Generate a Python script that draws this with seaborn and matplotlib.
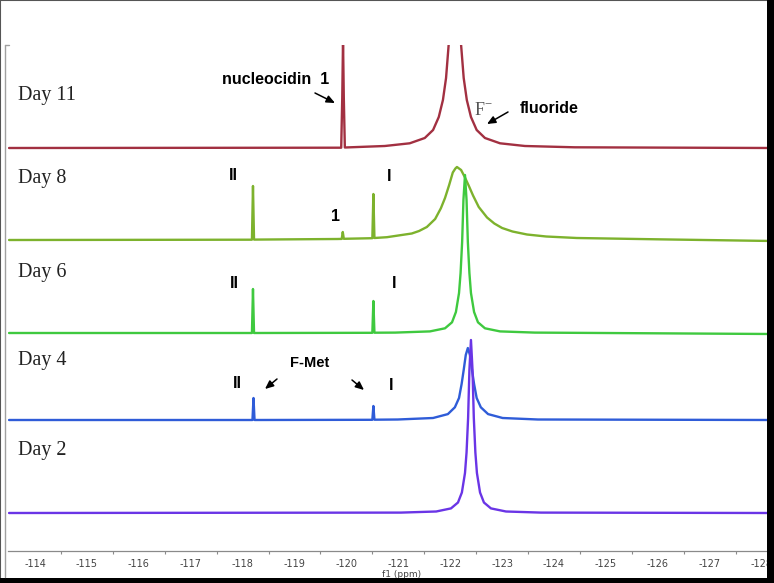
import numpy as np
import pandas as pd
import matplotlib
matplotlib.use("Agg")
import matplotlib.pyplot as plt
from matplotlib.patches import Rectangle
from matplotlib.lines import Line2D
import seaborn as sns

# ---------------- data (ppm, intensity above each trace's baseline) ----------------
days = ["Day 11", "Day 8", "Day 6", "Day 4", "Day 2"]

day11_ppm = [-113.50, -119.90, -119.92, -119.935, -119.95, -119.97, -120.74, -121.22, -121.51,
             -121.67, -121.78, -121.86, -121.92, -121.97, -122.03, -122.09, -122.15, -122.21,
             -122.26, -122.32, -122.40, -122.51, -122.67, -122.96, -123.44, -124.40, -128.20]
day11_int = [0.0, 0.3, 50, 108, 50, 0.5, 2, 4.7, 10,
             18, 31, 48, 70, 103, 144, 166, 144, 103,
             70, 48, 31, 18, 10, 4.7, 2, 0.7, 0.0]

day8_ppm = [-113.50, -118.18, -118.20, -118.22, -119.82, -119.91, -119.93, -119.95, -120.50,
            -120.52, -120.54, -120.78, -121.26, -121.40, -121.55, -121.71, -121.82, -121.90,
            -121.98, -122.05, -122.10, -122.13, -122.17, -122.21, -122.28, -122.36, -122.44,
            -122.55, -122.71, -122.85, -123.00, -123.20, -123.48, -123.85, -124.44, -125.98,
            -128.20]
day8_int = [0.0, 0.3, 54, 0.4, 1.0, 1.1, 8, 1.2, 1.8,
            46, 2.0, 2.8, 6.5, 9.0, 13, 21, 31.7, 42,
            55, 67.5, 71.5, 73, 71.5, 70, 63, 54, 44.5,
            33, 22.5, 16.5, 12, 8.5, 5.5, 3.5, 2.0, 0.7,
            -1.0]

day6_ppm = [-113.50, -118.18, -118.20, -118.22, -120.50, -120.52, -120.54, -120.94, -121.61,
            -121.90, -122.035, -122.11, -122.17, -122.20, -122.23, -122.255, -122.285, -122.315,
            -122.34, -122.37, -122.40, -122.46, -122.535, -122.67, -122.96, -123.63, -128.20]
day6_int = [0.0, 0.0, 44, 0.0, 0.2, 32, 0.3, 0.4, 1.6,
            4.7, 10.7, 21, 40, 60, 91, 133, 158, 133,
            91, 60, 40, 21, 10.7, 4.7, 1.6, 0.4, -1.0]

day4_ppm = [-113.50, -118.19, -118.21, -118.23, -120.50, -120.52, -120.54, -120.99, -121.67,
            -121.955, -122.09, -122.17, -122.22, -122.26, -122.30, -122.34, -122.38, -122.42,
            -122.46, -122.51, -122.59, -122.73, -123.01, -123.69, -128.20]
day4_int = [0.0, 0.0, 22, 0.0, 0.2, 14, 0.3, 0.5, 2.0,
            5.9, 12.7, 22, 36, 50, 65, 72, 65, 50,
            36, 22, 12.7, 5.9, 2.0, 0.5, 0.0]

day2_ppm = [-113.50, -121.05, -121.73, -122.015, -122.15, -122.225, -122.285, -122.315, -122.345,
            -122.37, -122.40, -122.43, -122.455, -122.485, -122.515, -122.575, -122.65, -122.785,
            -123.075, -123.75, -128.20]
day2_int = [0.0, 0.4, 1.5, 4.6, 10.5, 20.5, 40, 60.5, 95,
            143, 173, 143, 95, 60.5, 40, 20.5, 10.5, 4.6,
            1.5, 0.4, 0.0]

tick_values = list(range(-114, -129, -1))
tick_labels = [str(v) for v in tick_values]
minor_tick_values = [v - 0.5 for v in tick_values[:-1]]

# ---------------- layout / style ----------------
offsets = [403, 311, 218, 131, 38]
colors = ["#a23041", "#7db22d", "#3fc93f", "#2f5cd8", "#6a35e6"]

frames = []
for name, xs, ys, off in zip(days,
                             [day11_ppm, day8_ppm, day6_ppm, day4_ppm, day2_ppm],
                             [day11_int, day8_int, day6_int, day4_int, day2_int],
                             offsets):
    frames.append(pd.DataFrame({"ppm": xs, "signal": np.asarray(ys) + off, "day": name}))
df = pd.concat(frames, ignore_index=True)

sns.set_style("white")
plt.rcParams["font.family"] = ["DejaVu Sans"]

W, H = 774, 583
fig = plt.figure(figsize=(W / 100, H / 100), dpi=100)
ax = fig.add_axes([8 / W, (H - 551) / H, (767 - 8) / W, 506 / H])

def px2x(px):
    return -114 - (px - 35) / 51.9

sns.lineplot(data=df, x="ppm", y="signal", hue="day", hue_order=days,
             palette=dict(zip(days, colors)), estimator=None, sort=False,
             linewidth=1.7, legend=False, ax=ax)

for s in ["top", "left", "right"]:
    ax.spines[s].set_visible(False)
ax.spines["bottom"].set_color("#8a8a8a")
ax.spines["bottom"].set_linewidth(0.9)
ax.set_yticks([])
ax.set_xticks(tick_values)
ax.set_xticklabels(tick_labels)
ax.set_xticks(minor_tick_values, minor=True)
ax.set_xlim(px2x(8), px2x(767))
ax.set_ylim(0, 506)
ax.tick_params(axis="x", which="major", direction="out", length=3, width=0.8,
               color="#8a8a8a", labelsize=7, labelcolor="#444444", pad=2.5)
ax.tick_params(axis="x", which="minor", direction="out", length=2, width=0.8,
               color="#8a8a8a", bottom=True)
ax.set_xlabel("f1 (ppm)", fontsize=6.5, color="#444444", labelpad=0)
ax.set_ylabel("")
ax.xaxis.set_label_coords((402 - 8) / (767 - 8), -19 / 506)

# Day labels
day_label_y = [456, 373, 279, 190, 100]
for name, yy in zip(days, day_label_y):
    ax.text(px2x(18), yy, name, fontsize=14.5, family="Liberation Serif",
            color="#222222", ha="left", va="center")

bold = dict(family="Liberation Sans", fontweight="bold", color="black",
            ha="center", va="center")
arrow = dict(arrowstyle="-|>,head_length=0.5,head_width=0.22", color="black", lw=1.1,
             shrinkA=0, shrinkB=0)

# Day 11 annotations
ax.text(px2x(276), 472, "nucleocidin  1", fontsize=11.5, **bold)
ax.annotate("", xy=(px2x(335), 448), xytext=(px2x(315), 458), arrowprops=arrow)
ax.text(px2x(483), 441, r"$\mathregular{F^{-}}$", fontsize=13, family="Liberation Serif",
        color="#555555", ha="center", va="center")
ax.text(px2x(549), 443, "fluoride", fontsize=11.5, **bold)
ax.annotate("", xy=(px2x(487), 427), xytext=(px2x(508), 439), arrowprops=arrow)

# Day 8
ax.text(px2x(233), 376, "II", fontsize=11.5, **bold)
ax.text(px2x(389), 375, "I", fontsize=11.5, **bold)
ax.text(px2x(336), 335, "1", fontsize=11.5, **bold)
# Day 6
ax.text(px2x(234), 268, "II", fontsize=11.5, **bold)
ax.text(px2x(394), 268, "I", fontsize=11.5, **bold)
# Day 4
ax.text(px2x(310), 188, "F-Met", fontsize=10.5, **bold)
ax.text(px2x(237), 167, "II", fontsize=11.5, **bold)
ax.text(px2x(391), 166, "I", fontsize=11.5, **bold)
ax.annotate("", xy=(px2x(265), 162), xytext=(px2x(277), 172), arrowprops=arrow)
ax.annotate("", xy=(px2x(364), 161), xytext=(px2x(352), 171), arrowprops=arrow)

# Frame decorations (figure coordinates)
def fx(px):
    return px / W

def fy(py):
    return 1 - py / H

fig.add_artist(Rectangle((0, 0), 1, 1, transform=fig.transFigure, fill=False,
                         edgecolor="#555555", lw=1.5))
fig.add_artist(Rectangle((fx(767), 0), fx(7), 1, transform=fig.transFigure,
                         color="black", lw=0))
fig.add_artist(Rectangle((0, 0), 1, 5 / H, transform=fig.transFigure, color="black", lw=0))
fig.add_artist(Line2D([fx(5), fx(5)], [fy(45), fy(577)], transform=fig.transFigure,
                      color="#a0a0a0", lw=1))
fig.add_artist(Line2D([fx(5), fx(9)], [fy(45), fy(45)], transform=fig.transFigure,
                      color="#a0a0a0", lw=1))

fig.savefig("out.png", dpi=100, facecolor="white")
